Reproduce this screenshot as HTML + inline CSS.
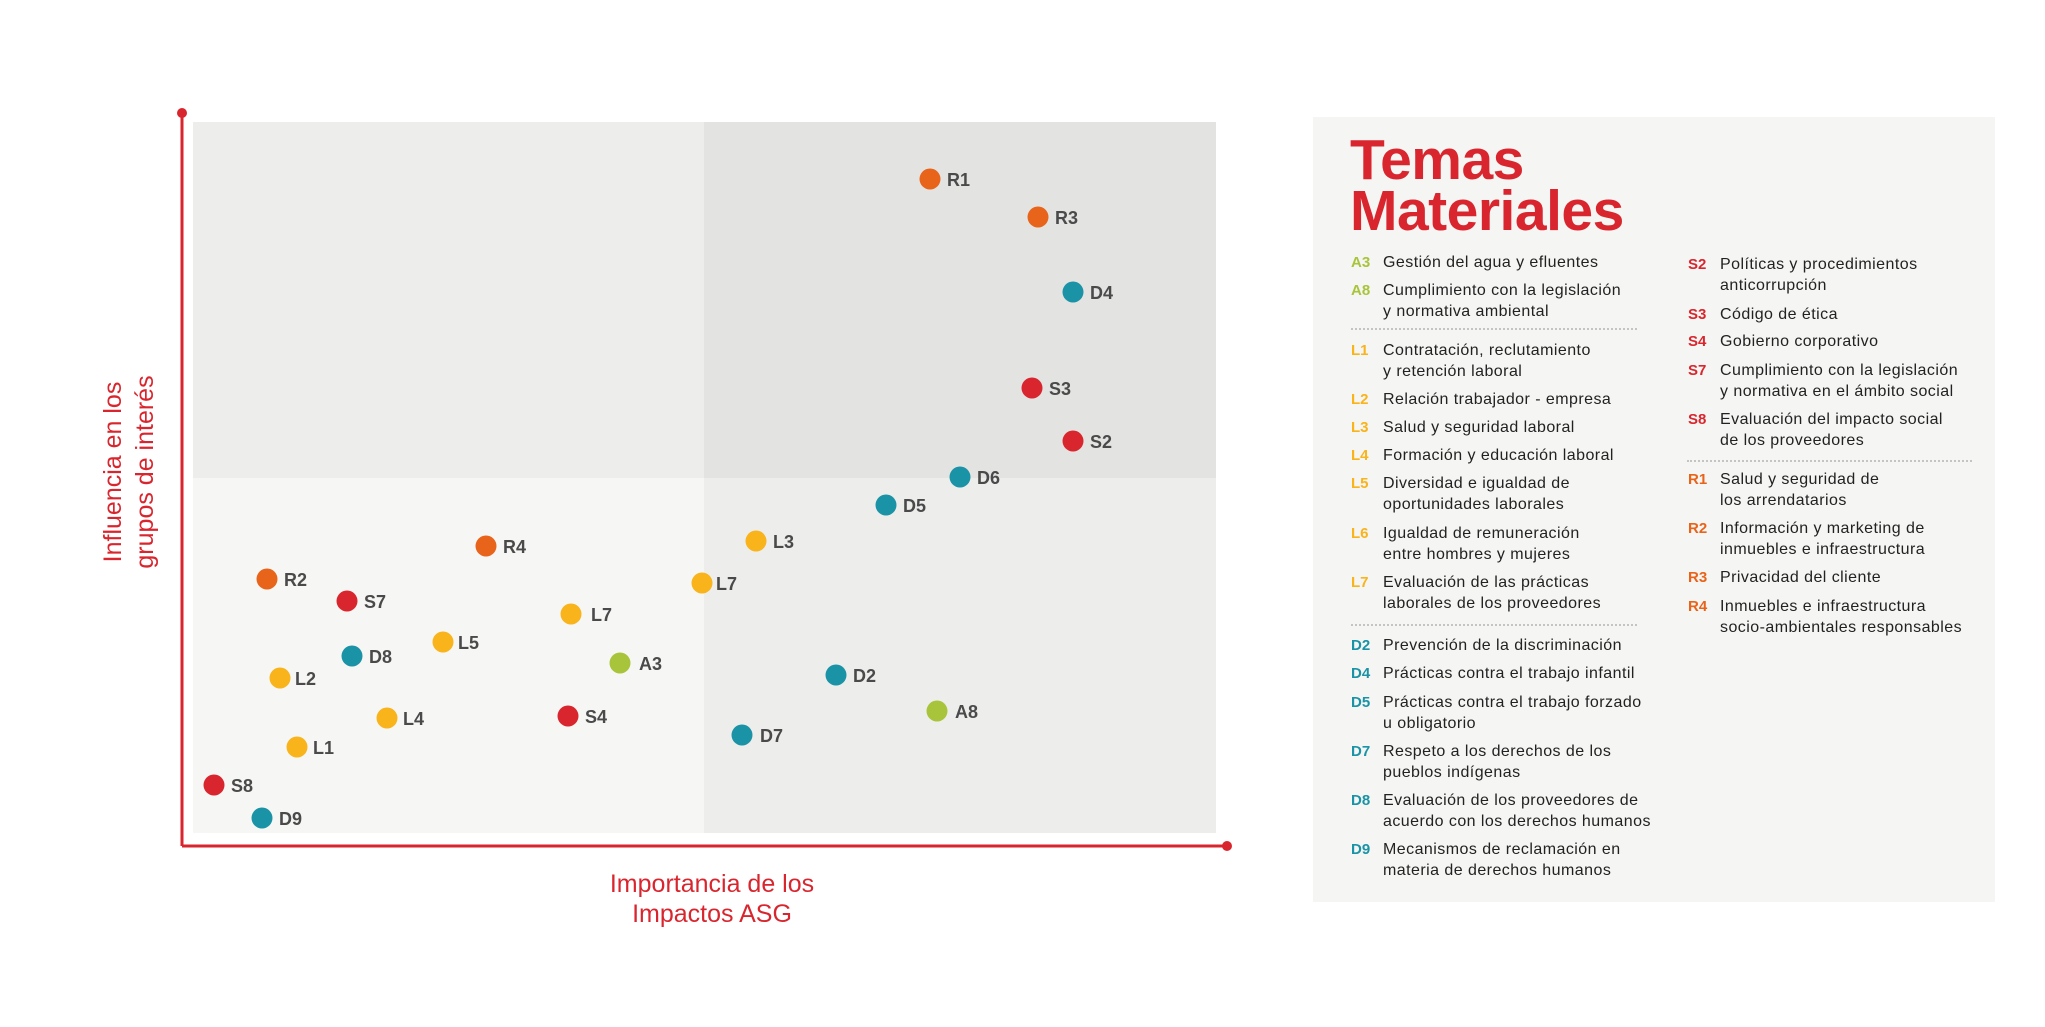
<!DOCTYPE html>
<html><head><meta charset="utf-8"><style>
body{margin:0;width:2045px;height:1027px;background:#fff;position:relative;overflow:hidden;font-family:"Liberation Sans",sans-serif}
.p{position:absolute;background:#f5f5f3;left:1313px;top:117px;width:682px;height:785px}
.t{position:absolute;left:1350px;color:#d9262e;font-weight:bold;font-size:57px;line-height:57px;letter-spacing:-0.5px}
.i{position:absolute;font-size:16px;line-height:21px;color:#222;white-space:nowrap;letter-spacing:0.45px}
.c{position:absolute;font-size:15px;line-height:21px;font-weight:bold;white-space:nowrap}
.d{position:absolute;height:0;border-top:2px dotted #c4c4c4}
</style></head><body>
<svg width="2045" height="1027" style="position:absolute;left:0;top:0" font-family="Liberation Sans, sans-serif">
<rect x="193" y="122" width="511" height="356" fill="#ededec"/>
<rect x="704" y="122" width="512" height="356" fill="#e3e3e2"/>
<rect x="193" y="478" width="511" height="355" fill="#f6f6f4"/>
<rect x="704" y="478" width="512" height="355" fill="#ededec"/>
<line x1="182" y1="113" x2="182" y2="846" stroke="#d9262e" stroke-width="3"/>
<line x1="182" y1="846" x2="1227" y2="846" stroke="#d9262e" stroke-width="3"/>
<circle cx="182" cy="113" r="5" fill="#d9262e"/>
<circle cx="1227" cy="846" r="5" fill="#d9262e"/>
<g font-size="18" font-weight="bold" fill="#4a4a4a">
<circle cx="930" cy="179" r="10.5" fill="#e8641b"/><text x="947" y="186">R1</text>
<circle cx="1038" cy="217" r="10.5" fill="#e8641b"/><text x="1055" y="224">R3</text>
<circle cx="1073" cy="292" r="10.5" fill="#1a93a6"/><text x="1090" y="299">D4</text>
<circle cx="1032" cy="388" r="10.5" fill="#d9262e"/><text x="1049" y="395">S3</text>
<circle cx="1073" cy="441" r="10.5" fill="#d9262e"/><text x="1090" y="448">S2</text>
<circle cx="960" cy="477" r="10.5" fill="#1a93a6"/><text x="977" y="484">D6</text>
<circle cx="886" cy="505" r="10.5" fill="#1a93a6"/><text x="903" y="512">D5</text>
<circle cx="756" cy="541" r="10.5" fill="#f9b31b"/><text x="773" y="548">L3</text>
<circle cx="486" cy="546" r="10.5" fill="#e8641b"/><text x="503" y="553">R4</text>
<circle cx="267" cy="579" r="10.5" fill="#e8641b"/><text x="284" y="586">R2</text>
<circle cx="702" cy="583" r="10.5" fill="#f9b31b"/><text x="716" y="590">L7</text>
<circle cx="347" cy="601" r="10.5" fill="#d9262e"/><text x="364" y="608">S7</text>
<circle cx="571" cy="614" r="10.5" fill="#f9b31b"/><text x="591" y="621">L7</text>
<circle cx="443" cy="642" r="10.5" fill="#f9b31b"/><text x="458" y="649">L5</text>
<circle cx="352" cy="656" r="10.5" fill="#1a93a6"/><text x="369" y="663">D8</text>
<circle cx="620" cy="663" r="10.5" fill="#a8c43a"/><text x="639" y="670">A3</text>
<circle cx="836" cy="675" r="10.5" fill="#1a93a6"/><text x="853" y="682">D2</text>
<circle cx="280" cy="678" r="10.5" fill="#f9b31b"/><text x="295" y="685">L2</text>
<circle cx="937" cy="711" r="10.5" fill="#a8c43a"/><text x="955" y="718">A8</text>
<circle cx="387" cy="718" r="10.5" fill="#f9b31b"/><text x="403" y="725">L4</text>
<circle cx="568" cy="716" r="10.5" fill="#d9262e"/><text x="585" y="723">S4</text>
<circle cx="742" cy="735" r="10.5" fill="#1a93a6"/><text x="760" y="742">D7</text>
<circle cx="297" cy="747" r="10.5" fill="#f9b31b"/><text x="313" y="754">L1</text>
<circle cx="214" cy="785" r="10.5" fill="#d9262e"/><text x="231" y="792">S8</text>
<circle cx="262" cy="818" r="10.5" fill="#1a93a6"/><text x="279" y="825">D9</text>
</g>
<g fill="#d9262e" font-size="25" text-anchor="middle">
<text x="712" y="892">Importancia de los</text>
<text x="712" y="922">Impactos ASG</text>
<g transform="translate(128,472) rotate(-90)">
<text x="0" y="-7">Influencia en los</text>
<text x="0" y="25">grupos de interés</text>
</g>
</g>
</svg>
<div class="p"></div>
<div class="t" style="top:132px">Temas</div>
<div class="t" style="top:183px">Materiales</div>

<div class="c" style="left:1351px;top:252px;color:#a8c43a">A3</div><div class="i" style="left:1383px;top:252px">Gestión del agua y efluentes</div>
<div class="c" style="left:1351px;top:280px;color:#a8c43a">A8</div><div class="i" style="left:1383px;top:280px">Cumplimiento con la legislación<br>y normativa ambiental</div>
<div class="d" style="left:1351px;width:286px;top:328px"></div>
<div class="c" style="left:1351px;top:340px;color:#f9b31b">L1</div><div class="i" style="left:1383px;top:340px">Contratación, reclutamiento<br>y retención laboral</div>
<div class="c" style="left:1351px;top:389px;color:#f9b31b">L2</div><div class="i" style="left:1383px;top:389px">Relación trabajador - empresa</div>
<div class="c" style="left:1351px;top:417px;color:#f9b31b">L3</div><div class="i" style="left:1383px;top:417px">Salud y seguridad laboral</div>
<div class="c" style="left:1351px;top:445px;color:#f9b31b">L4</div><div class="i" style="left:1383px;top:445px">Formación y educación laboral</div>
<div class="c" style="left:1351px;top:473px;color:#f9b31b">L5</div><div class="i" style="left:1383px;top:473px">Diversidad e igualdad de<br>oportunidades laborales</div>
<div class="c" style="left:1351px;top:523px;color:#f9b31b">L6</div><div class="i" style="left:1383px;top:523px">Igualdad de remuneración<br>entre hombres y mujeres</div>
<div class="c" style="left:1351px;top:572px;color:#f9b31b">L7</div><div class="i" style="left:1383px;top:572px">Evaluación de las prácticas<br>laborales de los proveedores</div>
<div class="d" style="left:1351px;width:286px;top:624px"></div>
<div class="c" style="left:1351px;top:635px;color:#1a93a6">D2</div><div class="i" style="left:1383px;top:635px">Prevención de la discriminación</div>
<div class="c" style="left:1351px;top:663px;color:#1a93a6">D4</div><div class="i" style="left:1383px;top:663px">Prácticas contra el trabajo infantil</div>
<div class="c" style="left:1351px;top:692px;color:#1a93a6">D5</div><div class="i" style="left:1383px;top:692px">Prácticas contra el trabajo forzado<br>u obligatorio</div>
<div class="c" style="left:1351px;top:741px;color:#1a93a6">D7</div><div class="i" style="left:1383px;top:741px">Respeto a los derechos de los<br>pueblos indígenas</div>
<div class="c" style="left:1351px;top:790px;color:#1a93a6">D8</div><div class="i" style="left:1383px;top:790px">Evaluación de los proveedores de<br>acuerdo con los derechos humanos</div>
<div class="c" style="left:1351px;top:839px;color:#1a93a6">D9</div><div class="i" style="left:1383px;top:839px">Mecanismos de reclamación en<br>materia de derechos humanos</div>

<div class="c" style="left:1688px;top:254px;color:#d9262e">S2</div><div class="i" style="left:1720px;top:254px">Políticas y procedimientos<br>anticorrupción</div>
<div class="c" style="left:1688px;top:304px;color:#d9262e">S3</div><div class="i" style="left:1720px;top:304px">Código de ética</div>
<div class="c" style="left:1688px;top:331px;color:#d9262e">S4</div><div class="i" style="left:1720px;top:331px">Gobierno corporativo</div>
<div class="c" style="left:1688px;top:360px;color:#d9262e">S7</div><div class="i" style="left:1720px;top:360px">Cumplimiento con la legislación<br>y normativa en el ámbito social</div>
<div class="c" style="left:1688px;top:409px;color:#d9262e">S8</div><div class="i" style="left:1720px;top:409px">Evaluación del impacto social<br>de los proveedores</div>
<div class="d" style="left:1687px;width:285px;top:460px"></div>
<div class="c" style="left:1688px;top:469px;color:#e8641b">R1</div><div class="i" style="left:1720px;top:469px">Salud y seguridad de<br>los arrendatarios</div>
<div class="c" style="left:1688px;top:518px;color:#e8641b">R2</div><div class="i" style="left:1720px;top:518px">Información y marketing de<br>inmuebles e infraestructura</div>
<div class="c" style="left:1688px;top:567px;color:#e8641b">R3</div><div class="i" style="left:1720px;top:567px">Privacidad del cliente</div>
<div class="c" style="left:1688px;top:596px;color:#e8641b">R4</div><div class="i" style="left:1720px;top:596px">Inmuebles e infraestructura<br>socio-ambientales responsables</div>
</body></html>
